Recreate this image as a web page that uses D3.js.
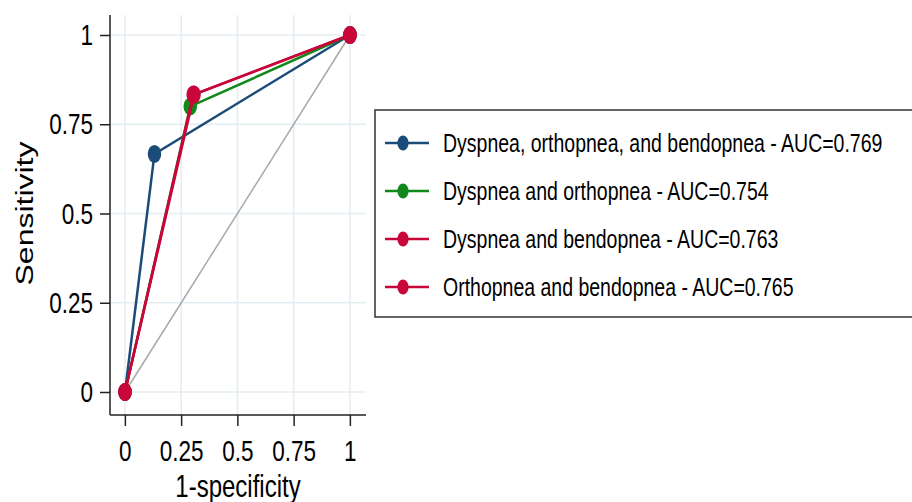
<!DOCTYPE html>
<meta charset="utf-8">
<html>
<head>
  <title>ROC curves</title>
  <style>
    body { margin: 0; background: #fff; }
    svg { display: block; }
    text { font-family: "Liberation Sans", Arial, Helvetica, sans-serif; fill: #000; }
    .grid line { stroke: #e4edf2; stroke-width: 1.5px; }
    .axis line, .axis-line { stroke: #222; stroke-width: 1.5px; }
  </style>
  <script src="https://d3js.org/d3.v7.min.js"></script>
</head>
<body>
  <svg></svg>
  <script>
    // ---- data ----
    var tickValues = [0, 0.25, 0.5, 0.75, 1];
    var tickLabels = ["0", "0.25", "0.5", "0.75", "1"];

    var seriesNames = [
      "Dyspnea, orthopnea, and bendopnea - AUC=0.769",
      "Dyspnea and orthopnea - AUC=0.754",
      "Dyspnea and bendopnea - AUC=0.763",
      "Orthopnea and bendopnea - AUC=0.765"
    ];
    var seriesColors = ["#1b4b78", "#11881a", "#c8063a", "#c8063a"];

    // 1-specificity (x) and sensitivity (y) for each curve
    var fprA = [0, 0.131, 1], sensA = [0, 0.667, 1];
    var fprB = [0, 0.290, 1], sensB = [0, 0.800, 1];
    var fprC = [0, 0.307, 1], sensC = [0, 0.833, 1];
    var fprD = [0, 0.303, 1], sensD = [0, 0.833, 1];

    var refX = [0, 1], refY = [0, 1];

    var fprs = [fprA, fprB, fprC, fprD];
    var senss = [sensA, sensB, sensC, sensD];

    // the picture is squeezed sideways, so draw on a wider canvas and squash it
    var W = 912, H = 502, squeeze = 0.75;
    var VW = W / squeeze;
    // screen pixel -> canvas x
    function px(p) { return p / squeeze; }

    var svg = d3.select("svg")
      .attr("width", W)
      .attr("height", H)
      .attr("viewBox", "0 0 " + VW + " " + H)
      .attr("preserveAspectRatio", "none");

    var x = d3.scaleLinear().domain([0, 1]).range([px(125), px(350)]);
    var y = d3.scaleLinear().domain([0, 1]).range([392, 35]);

    var plotLeft = px(110), plotRight = px(366), plotTop = 15, plotBottom = 415;

    // grid
    var grid = svg.append("g").attr("class", "grid");
    grid.selectAll(".h").data(tickValues).enter().append("line")
      .attr("x1", plotLeft).attr("x2", plotRight)
      .attr("y1", function(d) { return y(d); })
      .attr("y2", function(d) { return y(d); })
      .attr("vector-effect", "non-scaling-stroke");
    grid.selectAll(".v").data(tickValues).enter().append("line")
      .attr("y1", plotTop).attr("y2", plotBottom)
      .attr("x1", function(d) { return x(d); })
      .attr("x2", function(d) { return x(d); })
      .attr("vector-effect", "non-scaling-stroke");

    // axes
    svg.append("g").attr("class", "axis")
      .attr("transform", "translate(" + plotLeft + ",0)")
      .call(d3.axisLeft(y).tickValues(tickValues)
        .tickFormat(function(d, i) { return tickLabels[i]; })
        .tickSize(px(10)).tickPadding(px(7)));
    svg.append("g").attr("class", "axis")
      .attr("transform", "translate(0," + plotBottom + ")")
      .call(d3.axisBottom(x).tickValues(tickValues)
        .tickFormat(function(d, i) { return tickLabels[i]; })
        .tickSize(11).tickPadding(14));
    svg.selectAll(".axis .domain").remove();
    svg.selectAll(".axis text").attr("font-size", 30).attr("fill", "#000")
      .attr("font-family", "Liberation Sans, Arial, sans-serif");
    svg.selectAll(".axis line").attr("vector-effect", "non-scaling-stroke");

    svg.append("line").attr("class", "axis-line")
      .attr("x1", plotLeft).attr("x2", plotLeft)
      .attr("y1", plotTop).attr("y2", plotBottom)
      .attr("vector-effect", "non-scaling-stroke");
    svg.append("line").attr("class", "axis-line")
      .attr("x1", plotLeft).attr("x2", plotRight)
      .attr("y1", plotBottom).attr("y2", plotBottom)
      .attr("vector-effect", "non-scaling-stroke");

    // axis titles
    svg.append("text")
      .attr("x", (plotLeft + plotRight) / 2)
      .attr("y", 497)
      .attr("text-anchor", "middle")
      .attr("font-size", 32)
      .text("1-specificity");
    svg.append("text")
      .attr("transform", "translate(" + px(33) + "," + y(0.5) + ") rotate(-90)")
      .attr("text-anchor", "middle")
      .attr("font-size", 32)
      .text("Sensitivity");

    // reference diagonal
    var line = d3.line()
      .x(function(d) { return x(d[0]); })
      .y(function(d) { return y(d[1]); });

    svg.append("path")
      .datum(d3.zip(refX, refY))
      .attr("d", line)
      .attr("fill", "none")
      .attr("stroke", "#a8a8a8")
      .attr("stroke-width", 1.5)
      .attr("vector-effect", "non-scaling-stroke");

    // curves
    seriesNames.forEach(function(name, i) {
      var pts = d3.zip(fprs[i], senss[i]);
      var g = svg.append("g");
      g.append("path")
        .datum(pts)
        .attr("d", line)
        .attr("fill", "none")
        .attr("stroke", seriesColors[i])
        .attr("stroke-width", 2.5)
        .attr("vector-effect", "non-scaling-stroke");
      g.selectAll("circle").data(pts).enter().append("circle")
        .attr("cx", function(d) { return x(d[0]); })
        .attr("cy", function(d) { return y(d[1]); })
        .attr("r", 9)
        .attr("fill", seriesColors[i]);
    });

    // legend
    var lg = svg.append("g");
    lg.append("rect")
      .attr("x", px(375)).attr("y", 110)
      .attr("width", px(560)).attr("height", 207)
      .attr("fill", "#fff")
      .attr("stroke", "#333")
      .attr("stroke-width", 1.5)
      .attr("vector-effect", "non-scaling-stroke");

    var rowY = d3.scalePoint().domain(d3.range(seriesNames.length)).range([143, 287]);

    seriesNames.forEach(function(name, i) {
      var ry = rowY(i);
      lg.append("line")
        .attr("x1", px(385)).attr("x2", px(429))
        .attr("y1", ry).attr("y2", ry)
        .attr("stroke", seriesColors[i])
        .attr("stroke-width", 2.5)
        .attr("vector-effect", "non-scaling-stroke");
      lg.append("circle")
        .attr("cx", px(403)).attr("cy", ry).attr("r", 7.5)
        .attr("fill", seriesColors[i]);
      lg.append("text")
        .attr("x", px(443)).attr("y", ry)
        .attr("dy", "0.35em")
        .attr("font-size", 26)
        .text(name);
    });
  </script>
</body>
</html>
